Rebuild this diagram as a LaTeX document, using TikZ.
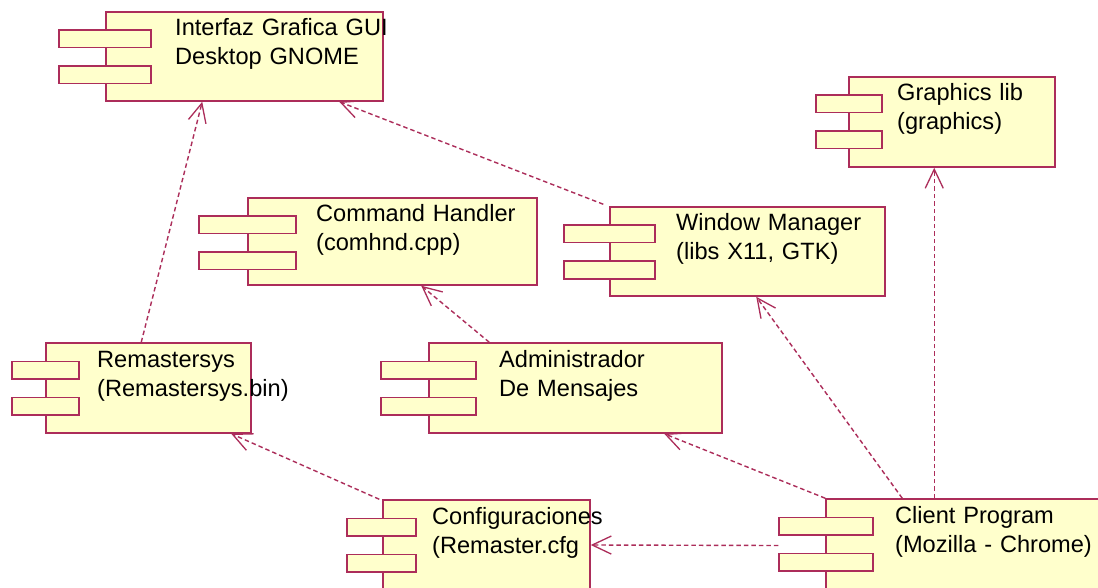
\documentclass[tikz,border=0pt]{standalone}
\usepackage{fontspec}
\setmainfont{Liberation Sans}
\usetikzlibrary{arrows.meta}

\definecolor{compline}{RGB}{172,45,90}
\definecolor{compfill}{RGB}{255,255,204}

\tikzset{
  compbody/.style={draw=compline, fill=compfill, line width=1.5pt, rectangle, inner sep=0pt},
  comptab/.style={draw=compline, fill=compfill, line width=1.5pt, rectangle, inner sep=0pt, minimum height=17.5pt},
  comptext/.style={anchor=base west, inner sep=0pt, text width=260pt, align=left,
                   font=\fontsize{23.6}{29}\selectfont, text=black},
  dep/.style={draw=compline, line width=1.4pt, dash pattern=on 4.5pt off 3pt,
              -{Straight Barb[length=19pt,width=18pt,line width=1.3pt]}}
}

% #1 name, #2 left, #3 top, #4 right, #5 bottom, #6 tab left, #7 tab right, #8 text x, #9 text
\newcommand\umlcomp[9]{%
  \node[compbody, minimum width={(#4-#2)*1pt}, minimum height={(#5-#3)*1pt}]
    (#1) at ({(#2+#4)/2},{(#3+#5)/2}) {};
  \node[comptab, minimum width={(#7-#6)*1pt}] (#1-tab1) at ({(#6+#7)/2},{#3+27}) {};
  \node[comptab, minimum width={(#7-#6)*1pt}] (#1-tab2) at ({(#6+#7)/2},{#3+63}) {};
  \node[comptext] (#1-text) at (#8,{#3+24}) {#9};
}

\begin{document}
\begin{tikzpicture}[x=1pt, y=-1pt]
  \useasboundingbox (0,0) rectangle (1098,588);
  \fill[white] (0,0) rectangle (1098,588);

  % components
  \umlcomp{gui}{106}{12}{383}{101}{59}{151}{175}{Interfaz Grafica GUI\\Desktop GNOME}
  \umlcomp{graphics}{849}{77}{1055}{167}{816}{882}{897}{Graphics lib\\(graphics)}
  \umlcomp{cmd}{248}{198}{537}{285}{199}{296}{316}{Command Handler\\(comhnd.cpp)}
  \umlcomp{win}{610}{207}{885}{296}{564}{655}{676}{Window Manager\\(libs X11, GTK)}
  \umlcomp{remas}{46}{343}{251}{433}{12}{79}{97}{Remastersys\\(Remastersys.bin)}
  \umlcomp{admin}{429}{343}{722}{433}{381}{476}{499}{Administrador\\De Mensajes}
  \umlcomp{config}{383}{500}{590}{590}{347}{416}{432}{Configuraciones\\(Remaster.cfg}
  \umlcomp{client}{826}{499}{1115}{592}{779}{873}{895}{Client Program\\(Mozilla - Chrome)}

  % dependencies
  \draw[dep] ([xshift=96pt]remas.north west) -- ([xshift=97pt]gui.south west);
  \draw[dep] ([xshift=-6pt,yshift=2pt]win.north west) -- ([xshift=234pt]gui.south west);
  \draw[dep] ([xshift=61pt]admin.north west) -- ([xshift=174pt]cmd.south west);
  \draw[dep] ([xshift=77pt]client.north west) -- ([xshift=147pt]win.south west);
  \draw[dep] (client.north west) -- ([xshift=236pt]admin.south west);
  \draw[dep] ([xshift=109pt]client.north west) -- ([xshift=86pt]graphics.south west);
  \draw[dep] ([yshift=-10pt]client-tab1.south west) -- (config.east);
  \draw[dep] ([xshift=-3pt]config.north west) -- ([xshift=186pt]remas.south west);
\end{tikzpicture}
\end{document}
